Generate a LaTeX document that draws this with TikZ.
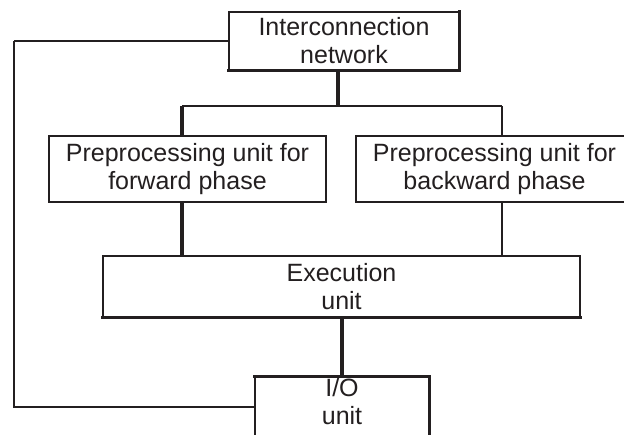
\documentclass[tikz,border=0pt]{standalone}
\usepackage{fontspec}
\setmainfont{Liberation Sans}
\definecolor{ink}{HTML}{231F20}
\begin{document}
\begin{tikzpicture}[x=0.75pt,y=-0.75pt,
  box/.style={draw=ink,line width=0.8pt,inner sep=0pt,align=center,text=ink,
    font=\fontsize{18.75pt}{21pt}\selectfont},
  txt/.style={inner sep=0pt,align=center,text=ink,font=\fontsize{18.75pt}{21pt}\selectfont},
  thinline/.style={draw=ink,line width=0.8pt},
  heavyline/.style={draw=ink,line width=2.6pt},
  edgeline/.style={draw=ink,line width=1.7pt,line cap=rect}]
\useasboundingbox (0,0) rectangle (624,435);
\fill[white] (0,0) rectangle (624,435);
% boxes
\node[box,minimum width=172.5pt,minimum height=43.5pt] (net) at (344,41) {Interconnection\\network};
\node[box,minimum width=207.75pt,minimum height=49.5pt] (pf) at (187.5,169) {Preprocessing unit for\\forward phase};
\node[box,minimum width=207.75pt,minimum height=49.5pt] (pb) at (494.5,169) {Preprocessing unit for\\backward phase};
\node[box,minimum width=357.75pt,minimum height=45.75pt] (ex) at (341.5,286.5) {Execution\\unit};
\node[box,minimum width=130.5pt,minimum height=52.5pt] (io) at (342,412) {};
\node[txt,anchor=north] (iot) at ([yshift=-1.5pt]io.north) {I/O\\unit};
% heavier box edges
\draw[edgeline] (net.south west) -- (net.south east) -- (net.north east);
\draw[edgeline] (ex.south west) -- (ex.south east);
\draw[edgeline] (io.north west) -- (io.north east) -- (io.south east);
% connectors
\coordinate (bl) at (182,106);
\coordinate (brr) at (502,106);
\coordinate (bc) at (338,106);
\coordinate (lt) at (14,41);
\coordinate (lb) at (14,407);
\draw[heavyline] (net.south -| bc) -- (bc);
\draw[thinline] (bl) -- (brr);
\draw[heavyline] (bl) -- (bl |- pf.north);
\draw[thinline] (brr) -- (brr |- pb.north);
\draw[heavyline] (pf.south -| bl) -- (ex.north -| bl);
\draw[thinline] (pb.south -| brr) -- (ex.north -| brr);
\draw[heavyline] (ex.south -| io.north) -- (io.north);
\draw[draw=ink,line width=1.7pt] (net.west) -- (lt);
\draw[thinline] (lt) -- (lb) -- (io.west |- lb);
\end{tikzpicture}
\end{document}
